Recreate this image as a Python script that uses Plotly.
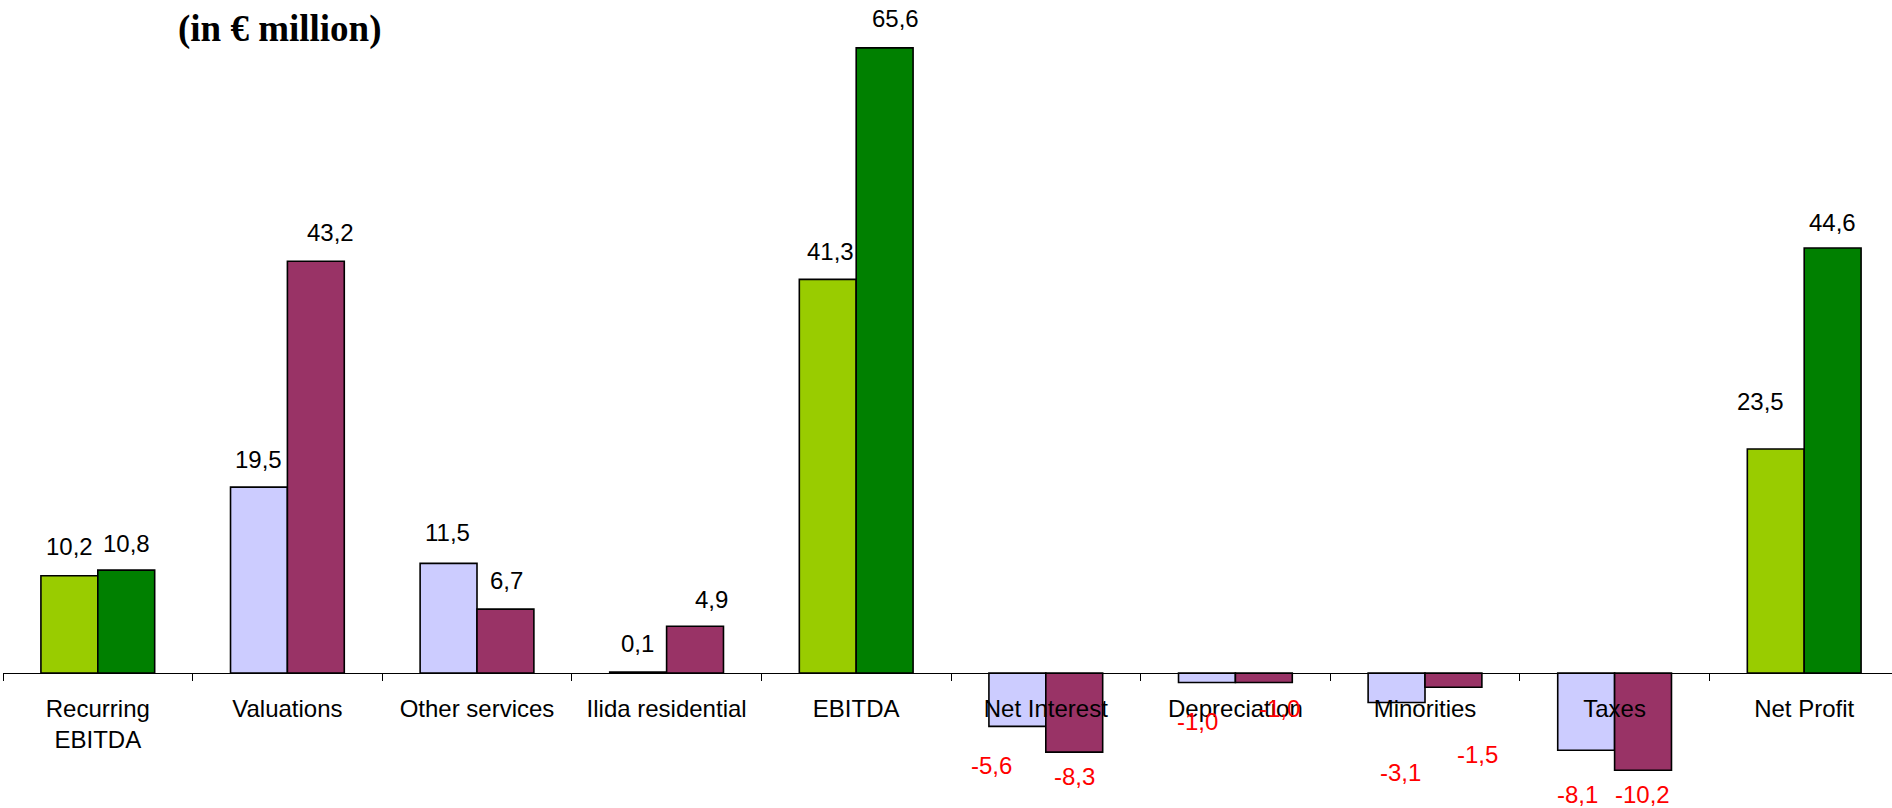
import plotly.graph_objects as go

# Chart data (in € million)
categories = ["Recurring<br>EBITDA", "Valuations", "Other services", "Ilida residential",
              "EBITDA", "Net Interest", "Depreciation", "Minorities", "Taxes", "Net Profit"]
period_1 = [10.2, 19.5, 11.5, 0.1, 41.3, -5.6, -1.0, -3.1, -8.1, 23.5]
period_2 = [10.8, 43.2, 6.7, 4.9, 65.6, -8.3, -1.0, -1.5, -10.2, 44.6]

# Bar colours per category (green for EBITDA-type totals, lavender/maroon for components)
colors_1 = ["#99CC00", "#CCCCFF", "#CCCCFF", "#CCCCFF", "#99CC00",
            "#CCCCFF", "#CCCCFF", "#CCCCFF", "#CCCCFF", "#99CC00"]
colors_2 = ["#008000", "#993366", "#993366", "#993366", "#008000",
            "#993366", "#993366", "#993366", "#993366", "#008000"]

# Value-label placement tweaks (px): horizontal nudge and distance from bar end
label_dx_1 = [0, 0, -1, -1, 3, -26, -9, 4, -9, -15]
label_dy_1 = [29, 28, 31, 29, 28, 39, 39, 70, 44, 48]
label_dx_2 = [0, 15, 1, 16, 11, 0, 16, 24, -1, 0]
label_dy_2 = [27, 29, 29, 27, 29, 24, 26, 67, 24, 25]

W, H = 1892, 808
AXIS_PX = 673          # pixel row of the zero line
PX_PER_UNIT = 9.53
y_max = AXIS_PX / PX_PER_UNIT
y_min = -(H - AXIS_PX) / PX_PER_UNIT
LEFT = 3
CAT_PX = 189.6
x_range = [-0.5, -0.5 + (W - LEFT) / CAT_PX]
bar_half = 0.15 * CAT_PX  # offset of each bar centre from its category centre

fig = go.Figure()
fig.add_trace(go.Bar(x=categories, y=period_1,
                     marker=dict(color=colors_1, line=dict(color="black", width=1.6)),
                     showlegend=False, hoverinfo="skip"))
fig.add_trace(go.Bar(x=categories, y=period_2,
                     marker=dict(color=colors_2, line=dict(color="black", width=1.6)),
                     showlegend=False, hoverinfo="skip"))


def fmt(v):
    return f"{v:.1f}".replace(".", ",")


annotations = []
for vals, dxs, dys, side in ((period_1, label_dx_1, label_dy_1, -1),
                             (period_2, label_dx_2, label_dy_2, 1)):
    for cat, v, dx, dy in zip(categories, vals, dxs, dys):
        neg = v < 0
        annotations.append(dict(
            x=cat, y=v, xref="x", yref="y", text=fmt(v), showarrow=False,
            xanchor="center", yanchor="middle",
            xshift=side * bar_half + dx, yshift=(-dy if neg else dy),
            font=dict(family="Liberation Sans, Arial, sans-serif", size=24,
                      color="#FF0000" if neg else "#000000"),
        ))

annotations.append(dict(
    x=277 / W, y=1 - 29 / H, xref="paper", yref="paper", xanchor="center", yanchor="middle",
    text="<b>(in € million)</b>", showarrow=False,
    font=dict(family="Liberation Serif, Times New Roman, serif", size=37, color="black"),
))

fig.update_layout(
    width=W, height=H,
    margin=dict(l=LEFT, r=0, t=0, b=0),
    paper_bgcolor="white", plot_bgcolor="white",
    barmode="group", bargap=0.4, bargroupgap=0,
    annotations=annotations,
    xaxis=dict(
        type="category", range=x_range, anchor="free",
        position=(H - AXIS_PX) / H,
        showline=True, linecolor="black", linewidth=1.2,
        ticks="outside", ticklen=7, tickcolor="black", tickwidth=1,
        tickson="boundaries", showgrid=False, zeroline=False,
        tickfont=dict(family="Liberation Sans, Arial, sans-serif", size=24, color="black"),
        ticklabelstandoff=14, layer="above traces", fixedrange=True,
    ),
    yaxis=dict(range=[y_min, y_max], visible=False, showgrid=False,
               zeroline=False, fixedrange=True),
)

fig.write_html("out.html", config={"displayModeBar": False})
